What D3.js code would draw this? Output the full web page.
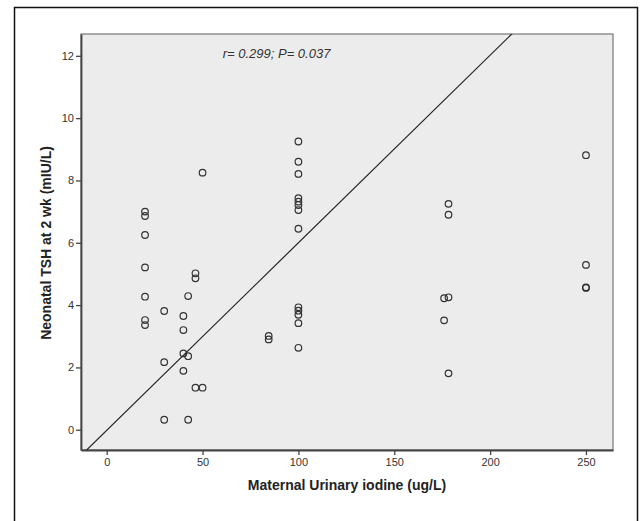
<!DOCTYPE html>
<html>
<head>
<meta charset="utf-8">
<script src="https://cdn.jsdelivr.net/npm/d3@7"></script>
<style>
  html, body { margin: 0; padding: 0; background: #fff; }
  svg { display: block; }
  .tick text { font-family: "Liberation Sans", Arial, sans-serif; font-size: 11px; fill: #333; }
  .axis-title { font-family: "Liberation Sans", Arial, sans-serif; font-size: 14px; font-weight: bold; fill: #222; }
  .note { font-family: "Liberation Sans", Arial, sans-serif; font-size: 13px; font-style: italic; fill: #333; }
</style>
</head>
<body>
<div id="chart"></div>
<script>
// Maternal urinary iodine (ug/L) vs neonatal TSH at 2 wk (mIU/L)
const iodine = [
  20, 20, 20, 20, 20, 20, 20,
  30, 30, 30,
  40, 40, 40, 40,
  42.5, 42.5, 42.5,
  46.3, 46.3, 46.3,
  50, 50,
  84.5, 84.5,
  100, 100, 100, 100, 100, 100, 100, 100, 100, 100, 100, 100, 100,
  176, 176,
  178.3, 178.3, 178.3, 178.3,
  250, 250, 250, 250
];
const tsh = [
  7.00, 6.86, 6.25, 5.21, 4.27, 3.52, 3.36,
  3.81, 2.17, 0.32,
  3.65, 3.20, 2.45, 1.89,
  4.29, 2.36, 0.32,
  5.02, 4.86, 1.35,
  8.25, 1.35,
  3.01, 2.90,
  9.25, 8.60, 8.21, 7.43, 7.32, 7.21, 7.05, 6.45, 3.93, 3.82, 3.69, 3.42, 2.63,
  4.22, 3.51,
  7.25, 6.90, 4.25, 1.81,
  8.81, 5.29, 4.57, 4.55
];

const xTicks = [0, 50, 100, 150, 200, 250];
const yTicks = [0, 2, 4, 6, 8, 10, 12];

// fitted line (drawn in the source figure)
const fitIntercept = -0.02;
const fitSlope = 0.0602;

const note = "r= 0.299; P= 0.037";
const xTitle = "Maternal Urinary iodine (ug/L)";
const yTitle = "Neonatal TSH at 2 wk (mIU/L)";

const W = 641, H = 521;
const plot = { left: 81, top: 34, right: 613, bottom: 450 };

const svg = d3.select("#chart").append("svg")
  .attr("width", W)
  .attr("height", H);

// outer frame
svg.append("rect")
  .attr("x", 14.5).attr("y", 7.5)
  .attr("width", 623).attr("height", 540)
  .attr("fill", "none")
  .attr("stroke", "#111")
  .attr("stroke-width", 1.5);

const x = d3.scaleLinear().domain([-13.4, 264.1]).range([plot.left, plot.right]);
const y = d3.scaleLinear().domain([-0.65, 12.7]).range([plot.bottom, plot.top]);

// plot background
svg.append("rect")
  .attr("x", plot.left).attr("y", plot.top)
  .attr("width", plot.right - plot.left)
  .attr("height", plot.bottom - plot.top)
  .attr("fill", "#ececec")
  .attr("stroke", "#777")
  .attr("stroke-width", 1.2);

svg.append("clipPath").attr("id", "plotclip")
  .append("rect")
  .attr("x", plot.left).attr("y", plot.top)
  .attr("width", plot.right - plot.left)
  .attr("height", plot.bottom - plot.top);

// axes
const xAxis = svg.append("g")
  .attr("transform", `translate(0,${plot.bottom})`)
  .call(d3.axisBottom(x).tickValues(xTicks).tickSize(5).tickPadding(3).tickSizeOuter(0));

const yAxis = svg.append("g")
  .attr("transform", `translate(${plot.left},0)`)
  .call(d3.axisLeft(y).tickValues(yTicks).tickSize(5).tickPadding(2).tickSizeOuter(0));

[xAxis, yAxis].forEach(a => {
  a.select(".domain").attr("stroke", "#444").attr("stroke-width", 1.8);
  a.selectAll(".tick line").attr("stroke", "#444").attr("stroke-width", 1.3);
});

// fit line
const [x0, x1] = x.domain();
svg.append("line")
  .attr("clip-path", "url(#plotclip)")
  .attr("x1", x(x0)).attr("y1", y(fitIntercept + fitSlope * x0))
  .attr("x2", x(x1)).attr("y2", y(fitIntercept + fitSlope * x1))
  .attr("stroke", "#222")
  .attr("stroke-width", 1.2);

// points
svg.append("g")
  .selectAll("circle")
  .data(iodine.map((v, i) => [v, tsh[i]]))
  .join("circle")
  .attr("cx", d => x(d[0]))
  .attr("cy", d => y(d[1]))
  .attr("r", 3.3)
  .attr("fill", "none")
  .attr("stroke", "#333")
  .attr("stroke-width", 1.2);

// annotation
svg.append("text")
  .attr("class", "note")
  .attr("x", x(60.5))
  .attr("y", y(11.94))
  .text(note);

// axis titles
svg.append("text")
  .attr("class", "axis-title")
  .attr("x", 347)
  .attr("y", 490)
  .attr("text-anchor", "middle")
  .text(xTitle);

svg.append("text")
  .attr("class", "axis-title")
  .attr("transform", "translate(51,243) rotate(-90)")
  .attr("text-anchor", "middle")
  .text(yTitle);
</script>
</body>
</html>
